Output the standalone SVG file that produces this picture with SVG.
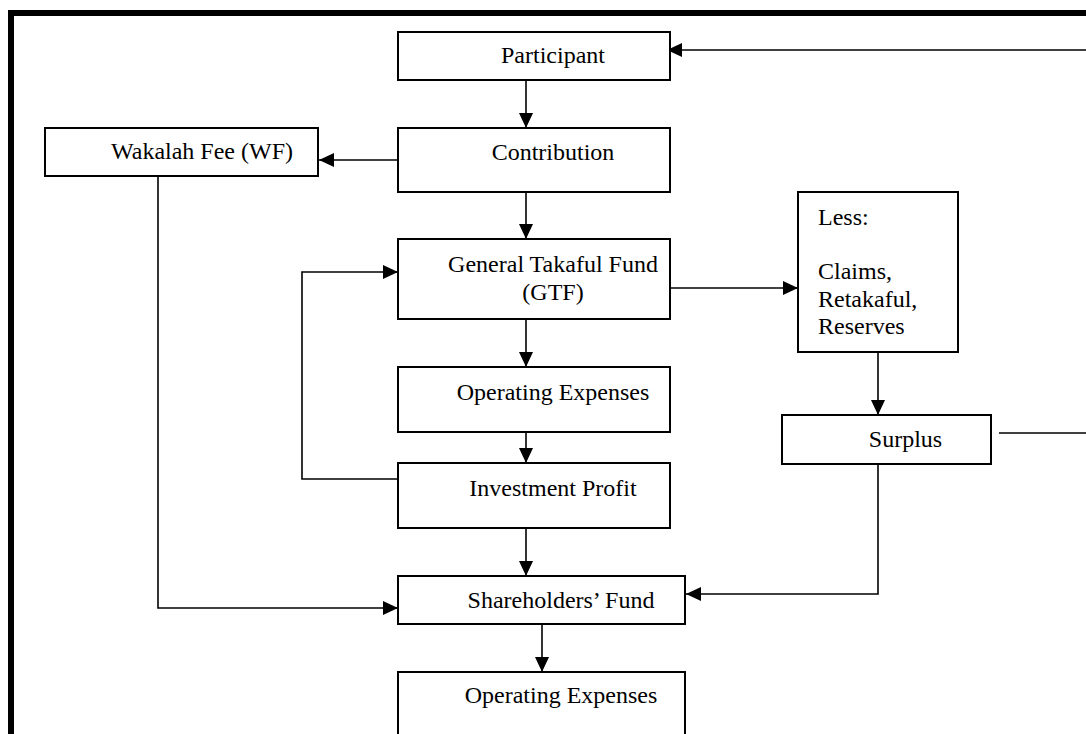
<svg xmlns="http://www.w3.org/2000/svg" width="1086" height="734" viewBox="0 0 1086 734">
<style>
.box{fill:#fff;stroke:#000;stroke-width:2}
.t{font-family:"Liberation Serif","Times New Roman",serif;font-size:24px;fill:#000}
.c{text-anchor:middle}
.ln{fill:none;stroke:#000;stroke-width:1.6}
.ar{marker-end:url(#ah)}
</style>
<defs>
<marker id="ah" markerUnits="userSpaceOnUse" markerWidth="15" markerHeight="14" refX="15" refY="7" orient="auto">
<path d="M0,0 L15,7 L0,14 z" fill="#000"/>
</marker>
</defs>
<rect width="1086" height="734" fill="#fff"/>
<path d="M11,734 V13 H1086" fill="none" stroke="#000" stroke-width="6"/>
<g id="connectors">
<path class="ln ar" d="M526,80 V128"/>
<path class="ln ar" d="M398,160 H319"/>
<path class="ln ar" d="M526,192 V239"/>
<path class="ln ar" d="M526,319 V367"/>
<path class="ln ar" d="M526,432 V463"/>
<path class="ln ar" d="M398,479 H302 V272 H398"/>
<path class="ln ar" d="M526,528 V576"/>
<path class="ln ar" d="M158,176 V608 H398"/>
<path class="ln ar" d="M671,288 H798"/>
<path class="ln ar" d="M878,352 V415"/>
<path class="ln ar" d="M878,464 V594 H686"/>
<path class="ln ar" d="M542,624 V672"/>
<path class="ln" d="M999,433 H1086"/>
<path class="ln ar" d="M1086,50 H667"/>
</g>
<g id="participant"><rect class="box" x="398" y="32" width="272" height="48"/><text class="t c" x="553" y="63">Participant</text></g>
<g id="wakalah"><rect class="box" x="45" y="128" width="273" height="48"/><text class="t c" x="202" y="159">Wakalah Fee (WF)</text></g>
<g id="contribution"><rect class="box" x="398" y="128" width="272" height="64"/><text class="t c" x="553" y="160">Contribution</text></g>
<g id="gtf"><rect class="box" x="398" y="239" width="272" height="80"/><text class="t c" x="553" y="272">General Takaful Fund</text><text class="t c" x="553" y="300">(GTF)</text></g>
<g id="less"><rect class="box" x="798" y="192" width="160" height="160"/><text class="t" x="818" y="225">Less:</text><text class="t" x="818" y="279">Claims,</text><text class="t" x="818" y="306.5">Retakaful,</text><text class="t" x="818" y="334">Reserves</text></g>
<g id="opex1"><rect class="box" x="398" y="367" width="272" height="65"/><text class="t c" x="553" y="400">Operating Expenses</text></g>
<g id="surplus"><rect class="box" x="782" y="415" width="209" height="49"/><text class="t c" x="905.5" y="447">Surplus</text></g>
<g id="investment"><rect class="box" x="398" y="463" width="272" height="65"/><text class="t c" x="553" y="496">Investment Profit</text></g>
<g id="shareholders"><rect class="box" x="398" y="576" width="287" height="48"/><text class="t c" x="561" y="608">Shareholders’ Fund</text></g>
<g id="opex2"><rect class="box" x="398" y="672" width="287" height="80"/><text class="t c" x="561" y="703">Operating Expenses</text></g>
</svg>
